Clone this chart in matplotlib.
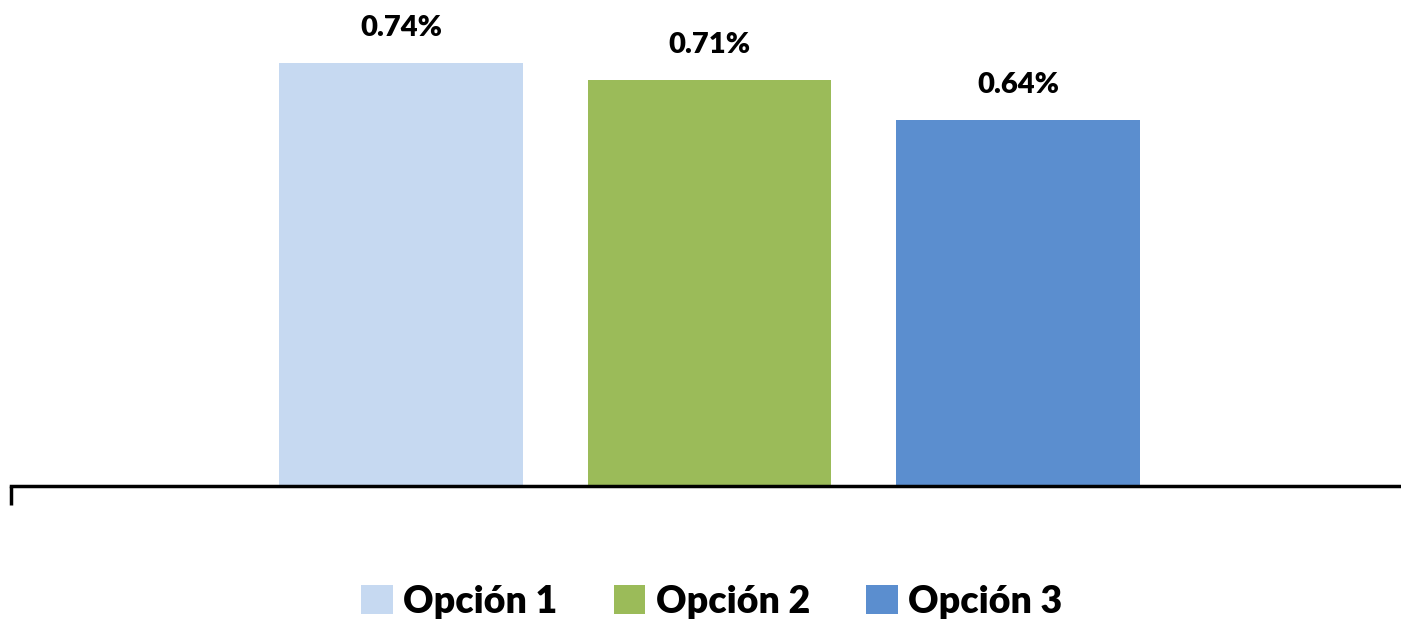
import matplotlib
matplotlib.use("Agg")
from matplotlib import pyplot as plt
from matplotlib.patches import Patch

plt.rcParams['font.family'] = ['Lato', 'DejaVu Sans']

opciones = ["Opción 1", "Opción 2", "Opción 3"]
valores = [0.74, 0.71, 0.64]
colores = ["#C6D9F1", "#9BBB59", "#5B8ECF"]

fig = plt.figure(figsize=(14.01, 6.23), dpi=100)
ax = fig.add_axes([11/1401, 137/623, 1 - 11/1401, 486/623])

pos = range(len(valores))
bars = ax.bar(pos, valores, width=0.79, color=colores)
for b, v in zip(bars, valores):
    ax.annotate(f"{v:.2f}%", (b.get_x() + b.get_width()/2, v),
                xytext=(0, 16), textcoords="offset points",
                ha="center", va="bottom", fontsize=21, fontweight="heavy")

ax.set_xlim(-1.264, 3.241)
ax.set_ylim(0, 0.74 * 486 / 423)

for s in ["top", "right", "left"]:
    ax.spines[s].set_visible(False)
ax.spines["bottom"].set_linewidth(2.5)
ax.set_yticks([])
ax.set_xticks([-1.264])
ax.set_xticklabels([""])
ax.tick_params(axis="x", length=14, width=2.5, direction="out")

handles = [Patch(facecolor=c, label=l) for c, l in zip(colores, opciones)]
fig.legend(handles=handles, loc="lower center", bbox_to_anchor=(0.508, -0.047),
           ncol=3, frameon=False, prop={"size": 27, "weight": "heavy"},
           handlelength=0.85, handleheight=0.8, handletextpad=0.27,
           columnspacing=1.5)

fig.savefig("out.png", dpi=100)
